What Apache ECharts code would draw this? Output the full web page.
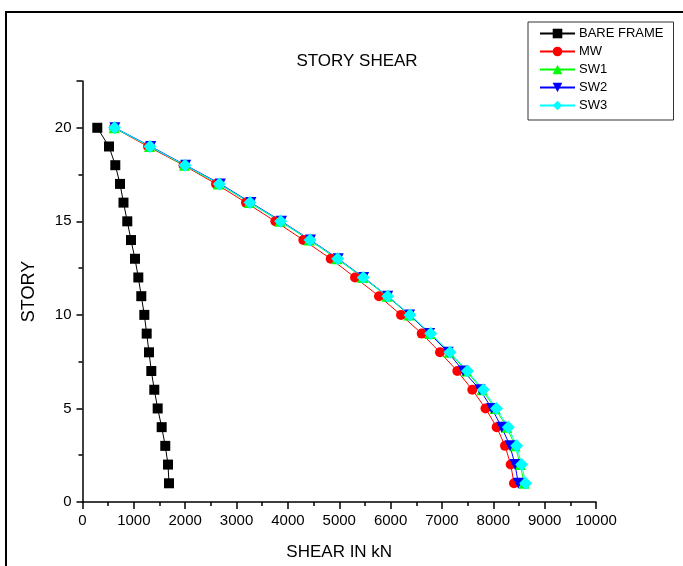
<!DOCTYPE html>
<html>
<head>
<meta charset="utf-8">
<script src="https://cdn.jsdelivr.net/npm/echarts@6/dist/echarts.min.js"></script>
<style>
  html, body { margin: 0; padding: 0; background: #fff; }
  #chart { width: 683px; height: 566px; }
</style>
</head>
<body>
<div id="chart"></div>
<script>
// story levels, top to bottom
const stories = [20, 19, 18, 17, 16, 15, 14, 13, 12, 11, 10, 9, 8, 7, 6, 5, 4, 3, 2, 1];
// story shear in kN
const bareFrame = [288, 516, 639, 730, 798, 872, 944, 1022, 1087, 1145, 1204, 1250, 1295, 1340, 1398, 1464, 1542, 1612, 1665, 1685];
const mw  = [613, 1276, 1967, 2600, 3184, 3755, 4300, 4834, 5307, 5774, 6203, 6606, 6962, 7299, 7591, 7848, 8066, 8228, 8339, 8403];
const sw1 = [615, 1305, 1985, 2650, 3250, 3845, 4415, 4955, 5455, 5930, 6360, 6765, 7140, 7478, 7780, 8035, 8262, 8425, 8525, 8600];
const sw2 = [630, 1330, 2010, 2685, 3280, 3875, 4440, 4980, 5475, 5945, 6370, 6760, 7120, 7416, 7741, 7969, 8164, 8325, 8423, 8487];
const sw3 = [623, 1315, 1996, 2664, 3262, 3860, 4430, 4970, 5468, 5944, 6378, 6781, 7157, 7498, 7805, 8062, 8292, 8455, 8553, 8631];

const font = 'Liberation Sans, Arial, sans-serif';

function pairs(vals) {
  return vals.map((v, i) => [v, stories[i]]);
}

function line(name, vals, color, symbol, size, rotate) {
  return {
    name: name,
    type: 'line',
    data: pairs(vals),
    symbol: symbol,
    symbolSize: size,
    symbolRotate: rotate || 0,
    itemStyle: { color: color },
    lineStyle: { color: color, width: 1 },
    emphasis: { disabled: true },
    animation: false
  };
}

const chart = echarts.init(document.getElementById('chart'));
chart.setOption({
  backgroundColor: '#fff',
  title: {
    text: 'STORY SHEAR',
    left: 352,
    top: 48,
    textAlign: 'center',
    textStyle: { fontFamily: font, fontSize: 17, fontWeight: 'normal', color: '#000' }
  },
  legend: {
    orient: 'vertical',
    left: 528,
    top: 22,
    padding: [5, 10, 8, 11],
    itemWidth: 35,
    itemHeight: 12,
    itemGap: 5,
    borderColor: '#333',
    borderWidth: 1,
    borderRadius: 0,
    textStyle: { fontFamily: font, fontSize: 13, color: '#000', padding: [0, 0, 0, -1] },
    data: ['BARE FRAME', 'MW', 'SW1', 'SW2', 'SW3']
  },
  grid: { left: 82.5, right: 87, top: 81, bottom: 64 },
  xAxis: {
    type: 'value',
    min: 0,
    max: 10000,
    interval: 1000,
    name: 'SHEAR IN kN',
    nameLocation: 'middle',
    nameGap: 42,
    nameTextStyle: { fontFamily: font, fontSize: 17, color: '#000' },
    axisLine: { lineStyle: { color: '#000', width: 1.5 } },
    axisTick: { inside: false, length: 7, lineStyle: { color: '#000', width: 1.5 } },
    minorTick: { show: true, splitNumber: 2, length: 4, lineStyle: { color: '#000', width: 1.5 } },
    axisLabel: { fontFamily: font, fontSize: 15, color: '#000', margin: 11, formatter: v => String(v) },
    splitLine: { show: false }
  },
  yAxis: {
    type: 'value',
    min: 0,
    max: 22.5,
    interval: 5,
    name: 'STORY',
    nameLocation: 'middle',
    nameGap: 44,
    nameTextStyle: { fontFamily: font, fontSize: 18, color: '#000' },
    axisLine: { lineStyle: { color: '#000', width: 1.5 } },
    axisTick: { inside: false, length: 6, lineStyle: { color: '#000', width: 1.5 } },
    minorTick: { show: true, splitNumber: 2, length: 4, lineStyle: { color: '#000', width: 1.5 } },
    axisLabel: { fontFamily: font, fontSize: 15, color: '#000', margin: 11, showMaxLabel: false },
    splitLine: { show: false }
  },
  graphic: [{
    type: 'polyline',
    shape: { points: [[6, 566], [6, 12], [683, 12]] },
    style: { stroke: '#000', lineWidth: 2, fill: null },
    silent: true
  }],
  series: [
    line('BARE FRAME', bareFrame, '#000000', 'rect', 10),
    line('MW', mw, '#ff0000', 'circle', 10),
    line('SW1', sw1, '#00ff00', 'triangle', 11),
    line('SW2', sw2, '#0000ff', 'triangle', 11, 180),
    line('SW3', sw3, '#00ffff', 'diamond', 13)
  ]
});
</script>
</body>
</html>
